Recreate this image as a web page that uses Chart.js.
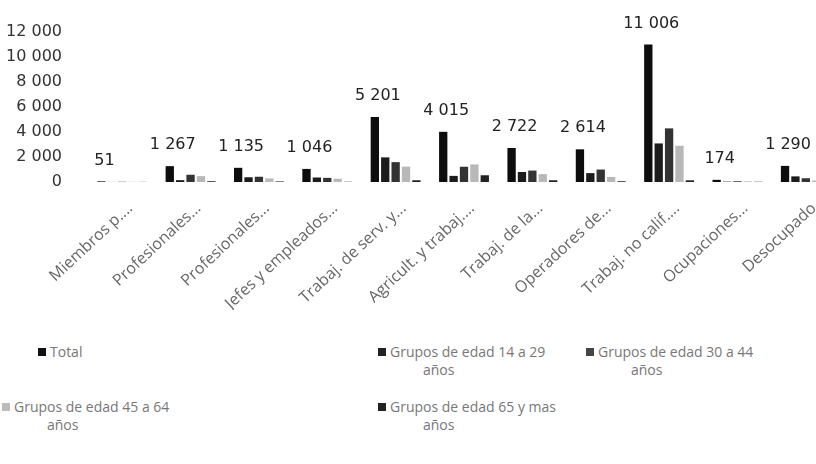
<!DOCTYPE html>
<html lang="es">
<head>
<meta charset="UTF-8">
<title>Ocupación por grupos de edad</title>
<script src="https://cdn.jsdelivr.net/npm/chart.js"></script>
<style>
body {
    margin: 0;
    padding: 0;
    background: white;
    overflow: hidden;
    width: 816px;
    height: 464px;
    font-family: 'DejaVu Sans', sans-serif;
}
.wrap {
    position: relative;
    width: 816px;
    height: 464px;
    overflow: hidden;
}
#grafico {
    position: absolute;
    left: 0;
    top: 0;
}
.leyenda-item {
    position: absolute;
    font-family: 'Open Sans', sans-serif;
    font-size: 14px;
    line-height: 18px;
    color: #777;
    white-space: nowrap;
}
.leyenda-item .caja {
    display: inline-block;
    width: 8px;
    height: 8px;
    margin-right: 4px;
    vertical-align: 1px;
}
.leyenda-item .linea2 {
    display: block;
    padding-left: 45px;
}
</style>
</head>
<body>
<div class="wrap">
    <canvas id="grafico" width="840" height="310"></canvas>
    <div id="leyenda"></div>
</div>

<script>
// categorías (ya recortadas como en el original)
const categorias = [
    'Miembros p....', 'Profesionales...', 'Profesionales...', 'Jefes y empleados...',
    'Trabaj. de serv. y...', 'Agricult. y trabaj....', 'Trabaj. de la...',
    'Operadores de...', 'Trabaj. no calif....', 'Ocupaciones...', 'Desocupado'
];

const total      = [51, 1267, 1135, 1046, 5201, 4015, 2722, 2614, 11006, 174, 1290];
const edad14a29  = [5, 150, 380, 360, 1970, 490, 800, 710, 3085, 30, 450];
const edad30a44  = [20, 580, 420, 330, 1590, 1220, 915, 995, 4290, 60, 300];
const edad45a64  = [15, 470, 290, 260, 1230, 1410, 630, 400, 2900, 50, 120];
const edad65mas  = [10, 60, 45, 20, 140, 540, 140, 60, 135, 20, 30];

const marcasEjeY = [0, 2000, 4000, 6000, 8000, 10000, 12000];

function miles(n) {
    return String(n).replace(/\B(?=(\d{3})+(?!\d))/g, ' ');
}

// etiquetas de valor solo sobre la serie Total
const etiquetasTotal = {
    id: 'etiquetasTotal',
    afterDatasetsDraw(chart) {
        const ctx = chart.ctx;
        const meta = chart.getDatasetMeta(0);
        ctx.save();
        ctx.font = '16px "DejaVu Sans"';
        ctx.fillStyle = '#222';
        ctx.textAlign = 'center';
        ctx.textBaseline = 'middle';
        meta.data.forEach(function(bar, i) {
            ctx.fillText(miles(total[i]), bar.x + 3, bar.y - 21);
        });
        ctx.restore();
    }
};

const ctx = document.getElementById('grafico').getContext('2d');
const chart = new Chart(ctx, {
    type: 'bar',
    data: {
        labels: categorias,
        datasets: [
            { label: 'Total', data: total, backgroundColor: '#0d0d0d' },
            { label: 'Grupos de edad 14 a 29 años', data: edad14a29, backgroundColor: '#1c1c1c' },
            { label: 'Grupos de edad 30 a 44 años', data: edad30a44, backgroundColor: '#333333' },
            { label: 'Grupos de edad 45 a 64 años', data: edad45a64, backgroundColor: '#b8b8b8' },
            { label: 'Grupos de edad 65 y mas años', data: edad65mas, backgroundColor: '#222222' }
        ]
    },
    options: {
        responsive: false,
        animation: false,
        datasets: {
            bar: { barPercentage: 0.8, categoryPercentage: 0.76 }
        },
        layout: { padding: { top: 32, right: 0, left: 0, bottom: 0 } },
        plugins: {
            legend: { display: false },
            tooltip: { enabled: false }
        },
        scales: {
            y: {
                min: 0,
                max: 12000,
                afterBuildTicks(scale) {
                    scale.ticks = marcasEjeY.map(v => ({ value: v }));
                },
                afterFit(scale) { scale.width = 88; },
                grid: { display: false },
                border: { display: false },
                ticks: {
                    padding: 18,
                    color: '#333',
                    font: { family: 'DejaVu Sans', size: 16 },
                    callback: v => miles(v)
                }
            },
            x: {
                afterFit(scale) { scale.height = 128; },
                grid: { display: false },
                border: { display: false },
                ticks: {
                    autoSkip: false,
                    minRotation: 43,
                    maxRotation: 43,
                    padding: 9,
                    labelOffset: 8,
                    color: '#666',
                    font: { family: 'Open Sans', size: 16 }
                }
            }
        }
    },
    plugins: [etiquetasTotal]
});

// leyenda en HTML, construida desde los datasets
const posLeyenda = [[38, 343], [378, 343], [586, 343], [2, 398], [378, 398]];
const colLeyenda = ['#111', '#222', '#444', '#bbb', '#222'];
const leyenda = document.getElementById('leyenda');
chart.data.datasets.forEach(function(ds, i) {
    const item = document.createElement('div');
    item.className = 'leyenda-item';
    item.style.left = posLeyenda[i][0] + 'px';
    item.style.top = posLeyenda[i][1] + 'px';
    const caja = document.createElement('span');
    caja.className = 'caja';
    caja.style.background = colLeyenda[i];
    item.appendChild(caja);
    const partes = ds.label.split(' años');
    item.appendChild(document.createTextNode(partes[0]));
    if (partes.length > 1) {
        const l2 = document.createElement('span');
        l2.className = 'linea2';
        l2.textContent = 'años';
        item.appendChild(l2);
    }
    leyenda.appendChild(item);
});
</script>
</body>
</html>
